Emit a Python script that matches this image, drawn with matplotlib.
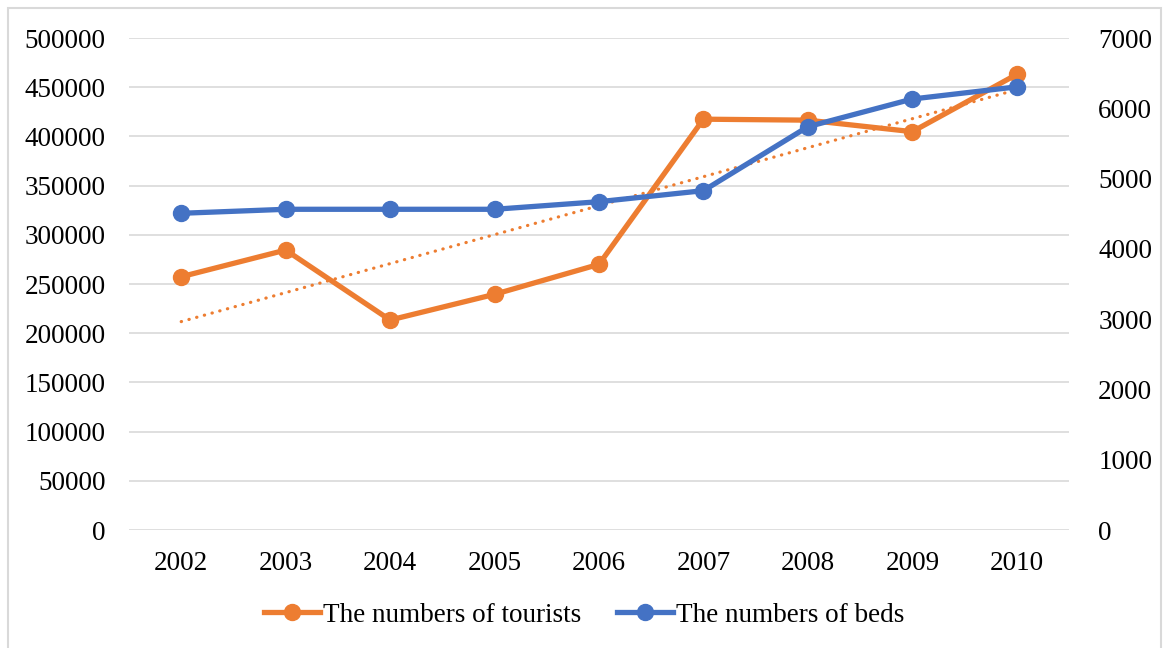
import matplotlib.pyplot as plt
from matplotlib.patches import Rectangle
from matplotlib.lines import Line2D
import numpy as np

# Data
years = ['2002', '2003', '2004', '2005', '2006', '2007', '2008', '2009', '2010']
tourists = [257400, 284500, 213400, 239500, 270000, 417500, 416500, 404800, 463000]
beds = [4506, 4563, 4563, 4563, 4671, 4828, 5738, 6132, 6305]

orange = '#ed7d31'
blue = '#4472c4'
grid_col = '#d9d9d9'

plt.rcParams['font.family'] = ['Liberation Serif', 'DejaVu Serif']
fs = 19.5

fig = plt.figure(figsize=(11.68, 6.48), dpi=100)
ax = fig.add_axes([129 / 1168, 1 - 530 / 648, (1069 - 129) / 1168, (530 - 38) / 648])
ax2 = ax.twinx()

x = np.arange(len(years))

# Linear trendline of tourists (Excel style)
slope, intercept = np.polyfit(x, tourists, 1)
ax.plot(x, slope * x + intercept, color=orange, linestyle=(0, (0.1, 2.4)),
        linewidth=2.3, dash_capstyle='round', zorder=4)

ax.plot(x, tourists, color=orange, linewidth=3.8, marker='o', markersize=11.5, zorder=3)
ax2.plot(x, beds, color=blue, linewidth=3.8, marker='o', markersize=11.5, zorder=3)

ax.set_xlim(-0.5, len(years) - 0.5)
ax.set_ylim(0, 500000)
ax2.set_ylim(0, 7000)
ax.set_yticks(np.arange(0, 500001, 50000))
ax2.set_yticks(np.arange(0, 7001, 1000))
ax.set_xticks(x)
ax.set_xticklabels(years)

ax.grid(axis='y', color=grid_col, linewidth=1.2)
ax.set_axisbelow(True)
for a in (ax, ax2):
    for s in a.spines.values():
        s.set_visible(False)
ax.tick_params(axis='both', length=0, labelsize=fs)
ax.tick_params(axis='y', pad=17)
ax.tick_params(axis='x', pad=15)
ax2.tick_params(axis='y', length=0, labelsize=fs, pad=21)

# Legend at the bottom
handles = [Line2D([], [], color=orange, linewidth=3.8, marker='o', markersize=11.5),
           Line2D([], [], color=blue, linewidth=3.8, marker='o', markersize=11.5)]
fig.legend(handles, ['The numbers of tourists', 'The numbers of beds'],
           loc='center', bbox_to_anchor=(0.5, 1 - 615 / 648), ncol=2, frameon=False,
           fontsize=fs, handlelength=2.1, handletextpad=0.1, columnspacing=1.3)

# Light border around the chart area
fig.patches.append(Rectangle((8 / 1168, -0.05), (1161 - 8) / 1168, 1.05 - 8 / 648,
                             transform=fig.transFigure, fill=False,
                             edgecolor=grid_col, linewidth=1.5))

fig.savefig('out.png', dpi=100)
